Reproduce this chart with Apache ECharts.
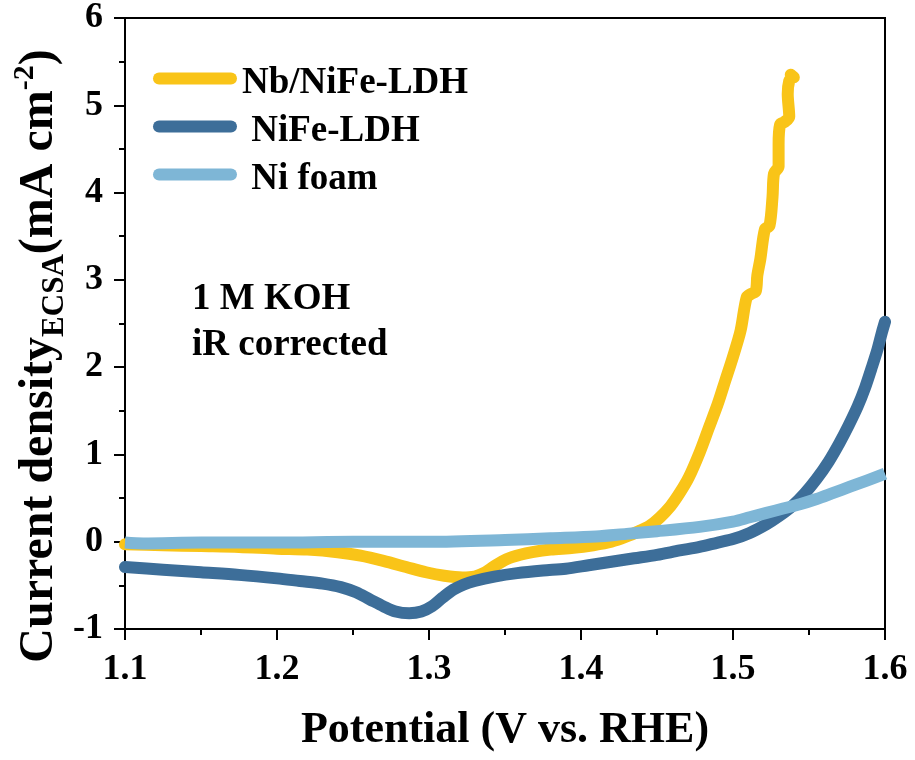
<!DOCTYPE html>
<html>
<head>
<meta charset="utf-8">
<script src="https://cdn.jsdelivr.net/npm/echarts@6/dist/echarts.min.js"></script>
<style>html,body{margin:0;padding:0;background:#fff}#c{width:915px;height:760px}</style>
</head>
<body>
<div id="c"></div>
<script>
const seriesNames = ['Nb/NiFe-LDH', 'NiFe-LDH', 'Ni foam'];
const seriesColors = ['#F9C418', '#3D6E99', '#7EB6D6'];

const nbPotential = [1.100,1.125,1.150,1.175,1.200,1.220,1.240,1.255,1.270,1.285,1.298,1.310,1.322,1.330,1.336,1.343,1.351,1.360,1.368,1.380,1.395,1.408,1.420,1.430,1.438,1.445,1.452,1.459,1.465,1.471,1.478,1.484,1.490,1.495,1.500,1.505,1.509,1.512,1.515,1.516,1.518,1.521,1.524,1.526,1.527,1.530,1.530,1.531,1.534,1.537,1.536,1.537,1.539,1.538,1.540];
const nbCurrent = [-0.03,-0.04,-0.05,-0.06,-0.08,-0.09,-0.12,-0.16,-0.22,-0.29,-0.35,-0.39,-0.41,-0.40,-0.36,-0.28,-0.20,-0.15,-0.12,-0.09,-0.07,-0.04,0.00,0.06,0.12,0.18,0.28,0.41,0.56,0.74,1.02,1.30,1.58,1.85,2.12,2.42,2.80,2.84,2.87,3.05,3.24,3.58,3.62,3.95,4.22,4.30,4.55,4.78,4.81,4.87,5.13,5.28,5.33,5.35,5.32];

const nifePotential = [1.100,1.125,1.150,1.175,1.200,1.215,1.230,1.242,1.252,1.261,1.270,1.278,1.287,1.295,1.302,1.309,1.316,1.323,1.330,1.343,1.358,1.375,1.390,1.405,1.420,1.435,1.450,1.465,1.478,1.490,1.500,1.511,1.522,1.530,1.539,1.547,1.555,1.563,1.570,1.576,1.582,1.587,1.591,1.595,1.598,1.600];
const nifeCurrent = [-0.29,-0.32,-0.35,-0.38,-0.42,-0.45,-0.48,-0.52,-0.58,-0.66,-0.74,-0.80,-0.82,-0.80,-0.74,-0.64,-0.55,-0.49,-0.45,-0.40,-0.36,-0.33,-0.31,-0.27,-0.23,-0.19,-0.15,-0.10,-0.06,-0.01,0.03,0.10,0.20,0.29,0.41,0.55,0.72,0.92,1.13,1.33,1.55,1.77,1.98,2.20,2.40,2.52];

const foamPotential = [1.100,1.112,1.150,1.200,1.250,1.300,1.350,1.380,1.410,1.430,1.450,1.478,1.500,1.511,1.522,1.533,1.544,1.555,1.566,1.577,1.588,1.600];
const foamCurrent = [-0.01,-0.02,-0.01,-0.01,0.00,0.00,0.02,0.04,0.06,0.09,0.12,0.17,0.23,0.28,0.33,0.38,0.43,0.49,0.56,0.63,0.70,0.78];

const xTicks = {min: 1.1, max: 1.6, interval: 0.1};
const yTicks = {min: -1, max: 6, interval: 1};

const xTitle = 'Potential (V vs. RHE)';
const noteLines = ['1 M KOH', 'iR corrected'];

const FONT = '"Liberation Serif","Times New Roman",serif';

function pairs(xs, ys) { return xs.map((x, i) => [x, ys[i]]); }

const chart = echarts.init(document.getElementById('c'), null, {renderer: 'canvas'});

const axisCommon = {
  axisLine: {show: true, onZero: false, lineStyle: {color: '#000', width: 2}},
  axisTick: {show: true, length: 11, lineStyle: {color: '#000', width: 2}},
  minorTick: {show: true, splitNumber: 2, length: 6, lineStyle: {color: '#000', width: 2}},
  splitLine: {show: false},
  minorSplitLine: {show: false}
};

chart.setOption({
  animation: false,
  backgroundColor: '#fff',
  grid: {left: 125, right: 30, top: 18, bottom: 131, show: true, borderColor: '#000', borderWidth: 2, backgroundColor: 'transparent'},
  xAxis: Object.assign({
    type: 'value', min: xTicks.min, max: xTicks.max, interval: xTicks.interval,
    name: xTitle, nameLocation: 'middle', nameGap: 80,
    nameTextStyle: {fontFamily: FONT, fontWeight: 'bold', fontSize: 44, color: '#000'},
    axisLabel: {margin: 23, fontFamily: FONT, fontWeight: 'bold', fontSize: 36, color: '#000',
      formatter: v => v.toFixed(1)}
  }, axisCommon),
  yAxis: Object.assign({
    type: 'value', min: yTicks.min, max: yTicks.max, interval: yTicks.interval,
    axisLabel: {margin: 22, fontFamily: FONT, fontWeight: 'bold', fontSize: 36, color: '#000',
      formatter: v => String(Math.round(v))}
  }, axisCommon),
  legend: {
    orient: 'vertical', left: 153, top: 55, itemGap: 1, padding: 0,
    itemWidth: 84, itemHeight: 12,
    icon: 'path://M6,0H78A6,6 0 0 1 78,12H6A6,6 0 0 1 6,0Z',
    data: seriesNames,
    formatter: name => '{t|' + (name === seriesNames[0] ? name : ' ' + name) + '}',
    textStyle: {
      rich: {t: {fontFamily: FONT, fontWeight: 'bold', fontSize: 37, color: '#000', padding: [10, 0, 0, 0], lineHeight: 37}}
    }
  },
  graphic: [
    {
      type: 'text', x: 70, y: 356, rotation: Math.PI / 2, silent: true,
      style: {
        text: '{a|Current density}{b|ECSA}{a|(mA cm}{c|-2}{a|)}',
        align: 'center', verticalAlign: 'bottom',
        rich: {
          a: {fontFamily: FONT, fontWeight: 'bold', fontSize: 48, lineHeight: 60, fill: '#000'},
          b: {fontFamily: FONT, fontWeight: 'bold', fontSize: 31, lineHeight: 31, verticalAlign: 'bottom', fill: '#000'},
          c: {fontFamily: FONT, fontWeight: 'bold', fontSize: 30, lineHeight: 30, verticalAlign: 'top', fill: '#000'}
        }
      }
    },
    {
      type: 'text', x: 192, y: 299, silent: true,
      style: {text: noteLines[0], font: 'bold 37px ' + FONT, fill: '#000', align: 'left', verticalAlign: 'middle'}
    },
    {
      type: 'text', x: 192, y: 345, silent: true,
      style: {text: noteLines[1], font: 'bold 37px ' + FONT, fill: '#000', align: 'left', verticalAlign: 'middle'}
    }
  ],
  series: [
    {name: seriesNames[0], type: 'line', data: pairs(nbPotential, nbCurrent), showSymbol: false, smooth: 0.3, z: 2,
      itemStyle: {color: seriesColors[0]}, lineStyle: {color: seriesColors[0], width: 12, cap: 'round', join: 'round'}},
    {name: seriesNames[1], type: 'line', data: pairs(nifePotential, nifeCurrent), showSymbol: false, smooth: 0.3, z: 3,
      itemStyle: {color: seriesColors[1]}, lineStyle: {color: seriesColors[1], width: 12, cap: 'round', join: 'round'}},
    {name: seriesNames[2], type: 'line', data: pairs(foamPotential, foamCurrent), showSymbol: false, smooth: 0.3, z: 4,
      itemStyle: {color: seriesColors[2]}, lineStyle: {color: seriesColors[2], width: 12, cap: 'butt', join: 'round'}}
  ]
});
</script>
</body>
</html>
